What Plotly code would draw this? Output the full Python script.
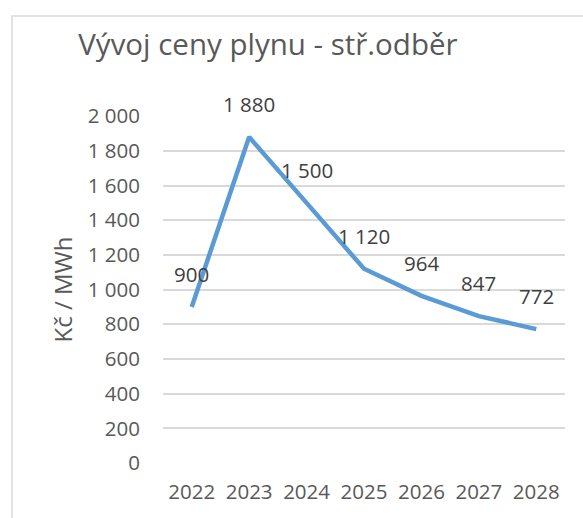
import plotly.graph_objects as go

years = ["2022", "2023", "2024", "2025", "2026", "2027", "2028"]
prices = [900, 1880, 1500, 1120, 964, 847, 772]
price_labels = ["900", "1 880", "1 500", "1 120", "964", "847", "772"]
y_ticks = [0, 200, 400, 600, 800, 1000, 1200, 1400, 1600, 1800, 2000]
y_tick_labels = ["0", "200", "400", "600", "800", "1 000", "1 200", "1 400", "1 600", "1 800", "2 000"]

FONT = "Open Sans"
TXT = "#595959"

fig = go.Figure()
fig.add_trace(go.Scatter(
    x=years, y=prices, mode="lines",
    line=dict(color="#5B9BD5", width=4.5),
    hoverinfo="skip",
))

for i, (y, t) in enumerate(zip(prices, price_labels)):
    fig.add_annotation(x=i, y=y, text=t, showarrow=False, xref="x", yref="y",
                       yshift=33, yanchor="middle",
                       font=dict(family=FONT, size=20.5, color="#404040"))

fig.update_layout(
    width=583, height=518,
    margin=dict(l=163, r=18, t=116, b=55),
    paper_bgcolor="white", plot_bgcolor="white",
    showlegend=False,
    title=dict(text="Vývoj ceny plynu - stř.odběr", x=0.261, xref="paper", xanchor="center",
               y=1 - 45 / 518, yref="container", yanchor="middle",
               font=dict(family=FONT, size=29.5, color=TXT)),
    font=dict(family=FONT, color=TXT),
)
fig.update_xaxes(type="category", range=[-0.5, 6.5], showgrid=False, showline=False,
                 zeroline=False, tickfont=dict(family=FONT, size=20.5, color=TXT),
                 ticks="", ticklabelstandoff=14)
fig.update_yaxes(range=[0, 2001], tickvals=y_ticks, ticktext=y_tick_labels,
                 showgrid=True, gridcolor="#D9D9D9", gridwidth=1.5, zeroline=False,
                 showline=False, ticks="", ticklabelstandoff=22,
                 tickfont=dict(family=FONT, size=20.5, color=TXT),
                 title=dict(text="Kč / MWh", font=dict(family=FONT, size=24, color=TXT), standoff=8))

# chart border (cropped on right and bottom)
pw, ph = 402, 347
fig.add_shape(type="rect", xref="paper", yref="paper",
              x0=(12 - 163) / pw, x1=1.5, y0=-0.5, y1=(463 - 16) / ph,
              line=dict(color="#D9D9D9", width=1.5), fillcolor="rgba(0,0,0,0)", layer="below")

fig.write_html("out.html", config={"displayModeBar": False},
               post_script="document.body.style.margin='0';document.body.style.overflow='hidden';")
